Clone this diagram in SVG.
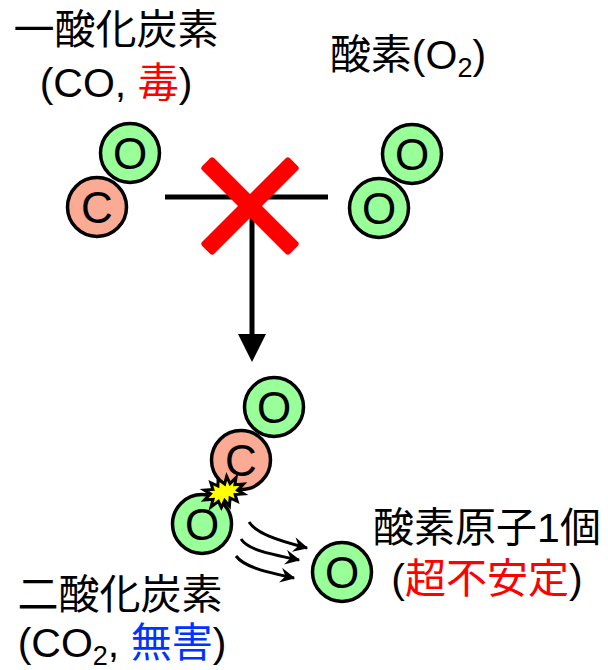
<svg xmlns="http://www.w3.org/2000/svg" width="608" height="670" viewBox="0 0 608 670">
  <style>
    text { font-family: "Liberation Sans", "Noto Sans CJK JP", sans-serif; font-size: 41px; fill: #000; }
    .label { text-anchor: middle; }
    .atom circle { stroke: #000; stroke-width: 3.5; }
    .o circle { fill: #99ff99; }
    .c circle { fill: #fbab94; }
    .atom text { text-anchor: middle; font-size: 44px; }
    .red { fill: #ff0000; }
    .blue { fill: #0033ff; }
    .sub { font-size: 27px; }
    .conn { stroke: #000; fill: none; }
  </style>
  <defs>
    <marker id="barb" viewBox="0 0 12 12" refX="11" refY="6" markerWidth="15" markerHeight="15" markerUnits="userSpaceOnUse" orient="auto">
      <path d="M0,0 L12,6 L0,12 L4,6 z" fill="#000"/>
    </marker>
  </defs>

  <!-- titles -->
  <g id="co-label">
    <text class="label" x="116" y="44">一酸化炭素</text>
    <text class="label" x="116" y="97">(CO, <tspan class="red">毒</tspan>)</text>
  </g>
  <g id="o2-label">
    <text class="label" x="408" y="69">酸素(O<tspan class="sub" dy="8">2</tspan><tspan dy="-8">)</tspan></text>
  </g>

  <!-- connectors: blocked reaction line, reaction arrow, ejection arrows -->
  <g id="connectors">
    <line class="conn" x1="165" y1="197" x2="328" y2="197" stroke-width="5"/>
    <line class="conn" x1="252" y1="197" x2="252" y2="338" stroke-width="5"/>
    <polygon points="238,334 266,334 252,362" fill="#000"/>
    <path class="conn" stroke-width="3" d="M249,522 C256,533 276,540 307,548" marker-end="url(#barb)"/>
    <path class="conn" stroke-width="3" d="M241,539 C248,550 270,554 299,560" marker-end="url(#barb)"/>
    <path class="conn" stroke-width="3" d="M236,556 C244,567 266,572 294,578" marker-end="url(#barb)"/>
  </g>

  <!-- red cross over the reaction -->
  <g id="cross" fill="#ff0000">
    <rect x="188" y="197.5" width="124" height="17" rx="3" transform="rotate(45 250 206)"/>
    <rect x="188" y="197.5" width="124" height="17" rx="3" transform="rotate(-45 250 206)"/>
  </g>

  <!-- carbon monoxide -->
  <g id="co-molecule">
    <g class="atom o"><circle cx="130" cy="153" r="29.5"/><text x="130" y="169">O</text></g>
    <g class="atom c"><circle cx="97" cy="207" r="29.5"/><text x="97" y="223">C</text></g>
  </g>

  <!-- oxygen molecule -->
  <g id="o2-molecule">
    <g class="atom o"><circle cx="412" cy="154" r="29.5"/><text x="412" y="170">O</text></g>
    <g class="atom o"><circle cx="379" cy="208" r="29.5"/><text x="379" y="224">O</text></g>
  </g>

  <!-- carbon dioxide -->
  <g id="co2-molecule">
    <g class="atom o"><circle cx="274" cy="407" r="29.5"/><text x="274" y="423">O</text></g>
    <g class="atom c"><circle cx="241" cy="460" r="29.5"/><text x="241" y="476">C</text></g>
    <g class="atom o"><circle cx="202" cy="524" r="29.5"/><text x="202" y="540">O</text></g>
  </g>

  <!-- spark between C and O -->
  <g id="spark">
    <polygon transform="translate(224 492) rotate(-25)" fill="#ffff00" stroke="#000" stroke-width="3" stroke-linejoin="miter"
      points="0,-14 4,-7 9,-13 9,-5 17,-8 13,-2 21,1 13,4 17,10 9,7 8,14 3,8 -1,15 -3,8 -9,13 -9,6 -18,8 -13,2 -21,-1 -13,-4 -17,-10 -9,-7 -8,-14 -3,-8"/>
  </g>

  <!-- free oxygen atom -->
  <g id="o-atom">
    <g class="atom o"><circle cx="342" cy="572" r="29.5"/><text x="342" y="588">O</text></g>
  </g>
  <g id="o-atom-label">
    <text class="label" x="487" y="542">酸素原子1個</text>
    <text class="label" x="487" y="593">(<tspan class="red">超不安定</tspan>)</text>
  </g>

  <g id="co2-label">
    <text class="label" x="120" y="609">二酸化炭素</text>
    <text class="label" x="122" y="657">(CO<tspan class="sub" dy="8">2</tspan><tspan dy="-8">, </tspan><tspan class="blue">無害</tspan>)</text>
  </g>
</svg>
